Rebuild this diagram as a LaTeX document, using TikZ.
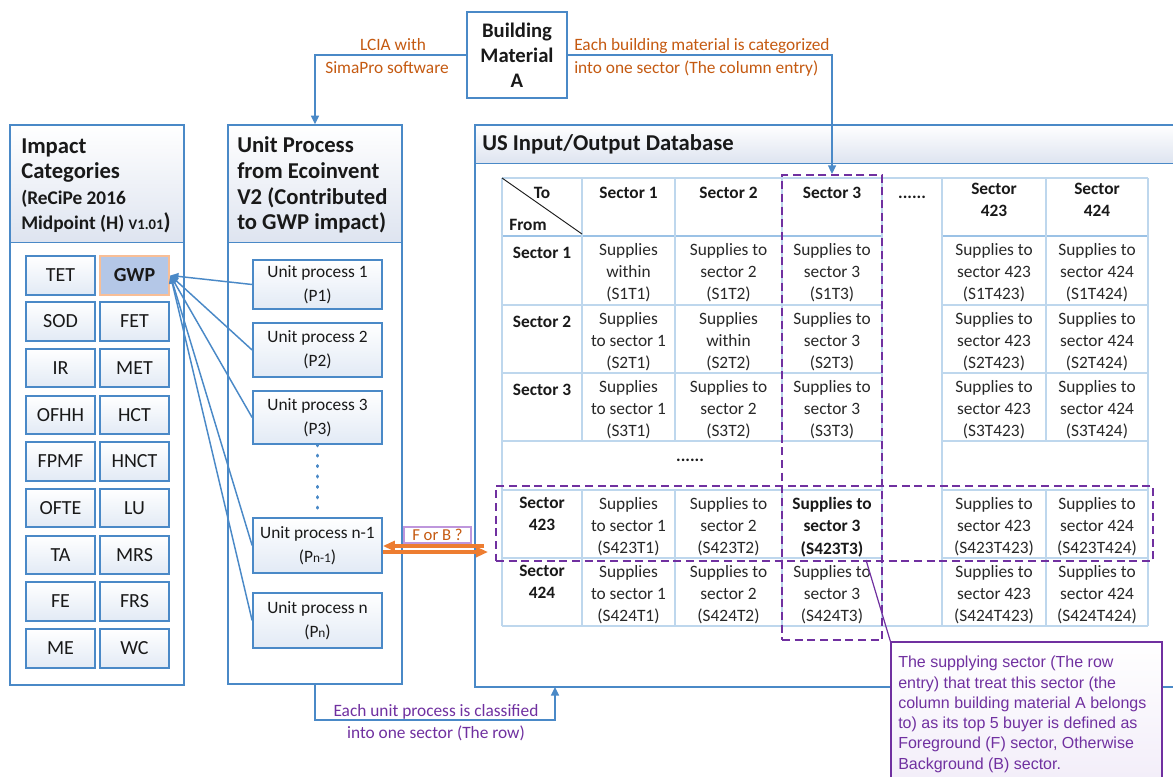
\documentclass[tikz,border=0pt]{standalone}
\usepackage{fontspec}
\setmainfont{Carlito}
\newfontfamily\calloutfont{Liberation Sans}
\usetikzlibrary{arrows.meta}

\definecolor{bblue}{RGB}{74,137,199}
\definecolor{tline}{RGB}{190,215,237}
\definecolor{tline2}{RGB}{155,194,230}
\definecolor{otext}{RGB}{197,90,17}
\definecolor{oarrow}{RGB}{237,125,49}
\definecolor{purp}{RGB}{112,48,160}
\definecolor{hdrbot}{RGB}{222,228,240}
\definecolor{boxbot}{RGB}{226,234,245}
\definecolor{gwpfill}{RGB}{180,199,231}
\definecolor{glow}{RGB}{248,190,150}
\definecolor{ctext}{RGB}{25,25,25}
\definecolor{cellc}{RGB}{40,40,40}
\definecolor{fbbord}{RGB}{190,150,220}
\definecolor{calbot}{RGB}{241,235,248}

\newcommand\rectnode[7]{\node[#6, minimum width={(#4-#2)*0.75pt}, minimum height={(#5-#3)*0.75pt}] (#1) at ({(#2+#4)/2},{(#3+#5)/2}) {#7};}

\tikzset{
  panel/.style={draw=bblue, line width=1.1pt, inner sep=0pt},
  hdrfill/.style={top color=white, bottom color=hdrbot, draw=none, inner sep=0pt},
  pline/.style={draw=bblue, line width=1.1pt},
  ibox/.style={draw=bblue, line width=1.3pt, top color=white, bottom color=boxbot, inner sep=0pt, font=\fontsize{15}{18}\selectfont, text=ctext},
  gwpbox/.style={draw=glow, line width=2.2pt, fill=gwpfill, inner sep=0pt, font=\bfseries\fontsize{15}{18}\selectfont, text=ctext},
  upbox/.style={ibox, font=\fontsize{13}{18}\selectfont, align=center},
  bmbox/.style={draw=bblue, line width=1.3pt, fill=white, align=center, inner sep=0pt, font=\bfseries\fontsize{15.5}{18.75}\selectfont, text=ctext},
  hdr/.style={font=\bfseries\fontsize{17}{19}\selectfont, text=ctext, inner sep=0pt, anchor=base west},
  hdrs/.style={font=\bfseries\fontsize{14.5}{17}\selectfont, text=ctext, inner sep=0pt, anchor=base west},
  cell/.style={font=\fontsize{13}{16.75}\selectfont, text=cellc, align=center, inner sep=0pt, anchor=north, execute at begin node=\strut},
  bcell/.style={cell, font=\bfseries\fontsize{13}{16.75}\selectfont, text=ctext},
  tl/.style={draw=tline, line width=0.9pt},
  conn/.style={draw=bblue, line width=1.2pt, -{Triangle[length=6.5pt,width=6pt]}},
  conn2/.style={draw=bblue, line width=1.1pt, -{Triangle[length=6pt,width=5pt]}},
  oarr/.style={draw=oarrow, line width=2.3pt, -{Triangle[length=9pt,width=7.5pt]}},
  olab/.style={text=otext, font=\fontsize{13}{16}\selectfont, inner sep=0pt},
  pdash/.style={draw=purp, line width=1.6pt, dash pattern=on 6pt off 3.5pt, inner sep=0pt},
  fbbox/.style={draw=fbbord, line width=0.8pt, fill=white, text=otext, inner sep=0pt, font=\fontsize{12.5}{14}\selectfont},
  callbox/.style={draw=purp, line width=0.9pt, top color=white, bottom color=calbot, inner sep=0pt},
}

\begin{document}
\begin{tikzpicture}[x=0.75pt,y=-0.75pt]
\useasboundingbox (0,0) rectangle (1173,776);
\clip (0,0) rectangle (1173,776);
\fill[white] (0,0) rectangle (1173,776);

% ---------- Building material ----------
\rectnode{bm}{467}{12}{567}{98}{bmbox}{Building\\Material\\A}

% ---------- Panels ----------
\rectnode{imphdr}{10}{125}{184}{242}{hdrfill}{}
\rectnode{imp}{10}{125}{184}{685}{panel}{}
\draw[pline] (imphdr.south west) -- (imphdr.south east);

\rectnode{unithdr}{228}{125}{402}{242}{hdrfill}{}
\rectnode{unit}{228}{125}{402}{684}{panel}{}
\draw[pline] (unithdr.south west) -- (unithdr.south east);

\rectnode{ushdr}{475}{125}{1180}{163}{hdrfill}{}
\rectnode{us}{475}{125}{1180}{687}{panel}{}
\draw[pline] (ushdr.south west) -- (ushdr.south east);

% header texts
\node[hdr] (ih1) at (21,153) {Impact};
\node[hdr] (ih2) at (21,178) {Categories};
\node[hdrs] (ih3) at (21,204) {(ReCiPe 2016};
\node[hdrs] (ih4) at (21,229) {Midpoint (H) {\fontsize{11}{12}\selectfont V1.01}{\fontsize{17}{19}\selectfont )}};

\node[hdr] (uh1) at (237,152) {Unit Process};
\node[hdr] (uh2) at (237,178) {from Ecoinvent};
\node[hdr] (uh3) at (237,204) {V2 (Contributed};
\node[hdr] (uh4) at (237,229) {to GWP impact)};

\node[hdr] (ush) at (482,150) {US Input/Output Database};

% ---------- Impact category boxes ----------
\rectnode{ic1a}{26}{256}{95}{295}{ibox}{TET}
\rectnode{gwp}{100}{256}{169}{295}{gwpbox}{GWP}
\rectnode{ic2a}{26}{302}{95}{341}{ibox}{SOD}
\rectnode{ic2b}{100}{302}{169}{341}{ibox}{FET}
\rectnode{ic3a}{26}{349}{95}{387}{ibox}{IR}
\rectnode{ic3b}{100}{349}{169}{387}{ibox}{MET}
\rectnode{ic4a}{26}{396}{95}{434}{ibox}{OFHH}
\rectnode{ic4b}{100}{396}{169}{434}{ibox}{HCT}
\rectnode{ic5a}{26}{442}{95}{481}{ibox}{FPMF}
\rectnode{ic5b}{100}{442}{169}{481}{ibox}{HNCT}
\rectnode{ic6a}{26}{489}{95}{527}{ibox}{OFTE}
\rectnode{ic6b}{100}{489}{169}{527}{ibox}{LU}
\rectnode{ic7a}{26}{536}{95}{574}{ibox}{TA}
\rectnode{ic7b}{100}{536}{169}{574}{ibox}{MRS}
\rectnode{ic8a}{26}{582}{95}{621}{ibox}{FE}
\rectnode{ic8b}{100}{582}{169}{621}{ibox}{FRS}
\rectnode{ic9a}{26}{629}{95}{668}{ibox}{ME}
\rectnode{ic9b}{100}{629}{169}{668}{ibox}{WC}

% ---------- Unit process boxes ----------
\rectnode{up1}{253}{260}{382}{309}{upbox}{Unit process 1\\(P1)}
\rectnode{up2}{253}{323}{382}{377}{upbox}{Unit process 2\\(P2)}
\rectnode{up3}{253}{391}{382}{444}{upbox}{Unit process 3\\(P3)}
\rectnode{upn1}{253}{518}{382}{573}{upbox}{Unit process n-1\\(P{\fontsize{10}{12}\selectfont n-1})}
\rectnode{upn}{253}{593}{382}{648}{upbox}{Unit process n\\(P{\fontsize{10}{12}\selectfont n})}

\draw[bblue, line width=2.5pt, dash pattern=on 0.6pt off 7.2pt, line cap=round] (up3.south) -- (upn1.north);

\foreach \u in {up1,up2,up3,upn1,upn}
  \draw[conn2] (\u.west) -- (gwp.east);

% ---------- Table grid ----------
\draw[tl] (502,178) -- (1148,178);
\draw[draw=tline2, line width=1.6pt] (502,236) -- (882,236) (942,236) -- (1148,236);
\foreach \yy in {305,373,441,490,558}
  \draw[tl] (502,\yy) -- (882,\yy) (942,\yy) -- (1148,\yy);
\draw[tl] (502,626) -- (1148,626);
\foreach \xx in {502,882,942,1148}
  \draw[tl] (\xx,178) -- (\xx,626);
\foreach \xx in {582,675,782,1046}
  \draw[tl] (\xx,178) -- (\xx,441) (\xx,490) -- (\xx,626);
\draw[draw=ctext, line width=0.7pt] (502,178) -- (582,234);

\node[font=\bfseries\fontsize{13}{15}\selectfont, text=ctext, inner sep=0pt, anchor=base] (to) at (542,198) {To};
\node[font=\bfseries\fontsize{13}{15}\selectfont, text=ctext, inner sep=0pt, anchor=base] (from) at (528,230) {From};

% column headers
\node[bcell] (hc1) at (628.5,183) {Sector 1};
\node[bcell] (hc2) at (728.5,183) {Sector 2};
\node[bcell] (hc3) at (832,183) {Sector 3};
\node[font=\bfseries\fontsize{13}{15}\selectfont, text=ctext, inner sep=0pt, anchor=base] (hc4) at (912,198) {......};
\node[bcell] (hc5) at (994,183) {Sector\\423};
\node[bcell] (hc6) at (1097,183) {Sector\\424};

% row headers
\node[bcell] (rh1) at (542,243) {Sector 1};
\node[bcell] (rh2) at (542,312) {Sector 2};
\node[bcell] (rh3) at (542,380) {Sector 3};
\node[bcell] (rh423) at (542,497) {Sector\\423};
\node[bcell] (rh424) at (542,565) {Sector\\424};

% data cells
\node[cell] (c1-1) at (628.5,243) {Supplies\\within\\(S1T1)};
\node[cell] (c1-2) at (728.5,243) {Supplies to\\sector 2\\(S1T2)};
\node[cell] (c1-3) at (832,243) {Supplies to\\sector 3\\(S1T3)};
\node[cell] (c2-1) at (628.5,312) {Supplies\\to sector 1\\(S2T1)};
\node[cell] (c2-2) at (728.5,312) {Supplies\\within\\(S2T2)};
\node[cell] (c2-3) at (832,312) {Supplies to\\sector 3\\(S2T3)};
\node[cell] (c3-1) at (628.5,380) {Supplies\\to sector 1\\(S3T1)};
\node[cell] (c3-2) at (728.5,380) {Supplies to\\sector 2\\(S3T2)};
\node[cell] (c3-3) at (832,380) {Supplies to\\sector 3\\(S3T3)};
\node[cell] (c423-1) at (628.5,497) {Supplies\\to sector 1\\(S423T1)};
\node[cell] (c423-2) at (728.5,497) {Supplies to\\sector 2\\(S423T2)};
\node[bcell] (c423-3) at (832,497) {Supplies to\\sector 3\\(S423T3)};
\node[cell] (c424-1) at (628.5,565) {Supplies\\to sector 1\\(S424T1)};
\node[cell] (c424-2) at (728.5,565) {Supplies to\\sector 2\\(S424T2)};
\node[cell] (c424-3) at (832,565) {Supplies to\\sector 3\\(S424T3)};
\foreach \r/\yy in {1/243,2/312,3/380,423/497,424/565}{
  \node[cell] (c\r-5) at (994,\yy) {Supplies to\\sector 423\\(S\r T423)};
  \node[cell] (c\r-6) at (1097,\yy) {Supplies to\\sector 424\\(S\r T424)};
}
\node[font=\bfseries\fontsize{13}{15}\selectfont, text=ctext, inner sep=0pt, anchor=base] (ell) at (690,461) {......};

% dashed highlight boxes
\rectnode{colbox}{782}{175}{882}{640}{pdash}{}
\rectnode{rowbox}{496}{486}{1153}{561}{pdash}{}

% ---------- Connectors top ----------
\draw[conn] (bm.west) -| (unit.north);
\draw[conn] (bm.east) -| (colbox.north);
\node[olab, anchor=base] (l1) at (393,50) {LCIA with};
\node[olab, anchor=base] (l2) at (387,73) {SimaPro software};
\node[olab, anchor=base west] (r1) at (574,50) {Each building material is categorized};
\node[olab, anchor=base west] (r2) at (574,73) {into one sector (The column entry)};

% ---------- F or B ----------
\coordinate (fbA) at (484,546);
\coordinate (fbB) at (488,552);
\draw[oarr] (fbA) -- (fbA -| upn1.east);
\draw[oarr] (fbB -| upn1.east) -- (fbB);
\rectnode{fb}{404}{527}{471}{543}{fbbox}{F or B ?}

% ---------- Bottom connector ----------
\coordinate (usb) at (555,687);
\draw[conn] (unit.south) -- ++(0,35) -| (usb);
\node[text=purp, font=\fontsize{13}{16.5}\selectfont, align=center, inner sep=0pt, anchor=north, execute at begin node=\strut] (bl) at (436,704.6) {Each unit process is classified\\into one sector (The row)};

% ---------- Callout ----------
\coordinate (ptr) at (866,560);
\rectnode{callout}{891}{642}{1162}{800}{callbox}{}
\draw[purp, line width=0.9pt] (ptr) -- (callout.north west);
\node[text=purp, font=\calloutfont\fontsize{12}{15.2}\selectfont, align=left, inner sep=0pt, anchor=north west, execute at begin node=\strut] (ct) at (898,656) {The supplying sector (The row\\entry) that treat this sector (the\\column building material A belongs\\to) as its top 5 buyer is defined as\\Foreground (F) sector, Otherwise\\Background (B) sector.};

\end{tikzpicture}
\end{document}
